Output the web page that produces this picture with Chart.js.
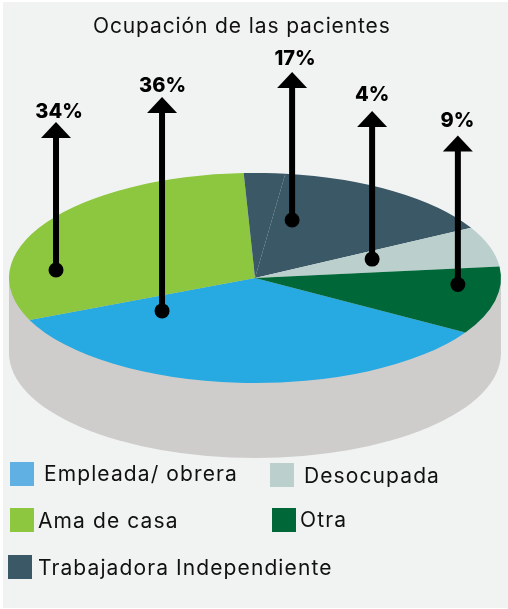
<!DOCTYPE html>
<html>
<head>
<meta charset="utf-8">
<script src="https://cdn.jsdelivr.net/npm/chart.js@4"></script>
<style>
    html, body { margin: 0; padding: 0; background: #fff; }
    #page { position: relative; width: 508px; height: 609px; overflow: hidden; }
    #panel { position: absolute; left: 3px; top: 2px; right: 0; bottom: 1px; background: #f1f3f3; }
    canvas { position: absolute; left: 0; top: 0; }
    .txt { position: absolute; font-family: Inter, sans-serif; font-size: 21px; line-height: 24px; color: #111; white-space: nowrap; }
    .swatch { position: absolute; width: 24px; height: 24px; }
</style>
</head>
<body>
<div id="page">
    <div id="panel"></div>
    <canvas id="chart" width="508" height="609"></canvas>
    <div id="title" class="txt" style="left:93px; top:14px; letter-spacing:0.88px;">Ocupación de las pacientes</div>
    <div id="legend"></div>
</div>
<script>
// slice shares as drawn in the picture (they differ a little from the printed percentages)
const sliceLabels = ['Empleada/ obrera', 'Ama de casa', 'Trabajadora Independiente', 'Trabajadora Independiente', 'Desocupada', 'Otra'];
const sliceValues = [34.8, 30.8, 2.7, 15.1, 6.2, 10.4];
const sliceColors = ['#27a9e1', '#8dc63f', '#3a5866', '#3a5866', '#bbcfcd', '#006838'];

// callouts: printed label, slice index, where the dot sits inside the slice, arrow length
const calloutLabels = ['34%', '36%', '17%', '4%', '9%'];
const calloutSlices = [1, 0, 3, 4, 5];
const calloutAngleFrac = [0.261, 0.871, 0.151, 0.351, 0.281];
const calloutRadiusFrac = [0.8125, 0.491, 0.572, 0.509, 0.827];
const calloutLengths = [148, 214, 148, 148, 149];
const calloutLabelOffsets = [3, 0.5, 3, 0, -0.5];
const calloutLabelGaps = [4, 5, 7, 10, 8];

const legendLabels = ['Empleada/ obrera', 'Desocupada', 'Ama de casa', 'Otra', 'Trabajadora Independiente'];
const legendColors = ['#60b0e3', '#bbcfcd', '#8dc63f', '#006838', '#3a5866'];
const legendSwatchX = [10, 270, 10, 272, 8];
const legendSwatchY = [462, 463, 508, 508, 555];
const legendTextX = [44, 304, 38, 300, 38];
const legendTextY = [462, 464, 509, 508, 556];

const squash = 105 / 246;
const wallDepth = 75;
const wallColor = '#cecdcb';

const legendEl = document.getElementById('legend');
legendLabels.forEach((label, i) => {
    const swatch = document.createElement('div');
    swatch.className = 'swatch';
    swatch.style.cssText = `left:${legendSwatchX[i]}px; top:${legendSwatchY[i]}px; background:${legendColors[i]};`;
    legendEl.appendChild(swatch);
    const text = document.createElement('div');
    text.className = 'txt';
    text.style.cssText = `left:${legendTextX[i]}px; top:${legendTextY[i]}px; letter-spacing:1.1px;`;
    text.textContent = label;
    legendEl.appendChild(text);
});

const tiltedPie = {
    id: 'tiltedPie',
    beforeDatasetsDraw(chart) {
        const { ctx } = chart;
        const arc = chart.getDatasetMeta(0).data[0];
        const rx = arc.outerRadius;
        const ry = rx * squash;

        // side wall below the disc
        ctx.save();
        ctx.fillStyle = wallColor;
        ctx.beginPath();
        ctx.moveTo(arc.x - rx, arc.y);
        ctx.lineTo(arc.x - rx, arc.y + wallDepth);
        ctx.ellipse(arc.x, arc.y + wallDepth, rx, ry, 0, Math.PI, 0, true);
        ctx.lineTo(arc.x + rx, arc.y);
        ctx.closePath();
        ctx.fill();
        ctx.restore();

        // flatten the disc, restored again in afterDatasetsDraw
        ctx.save();
        ctx.translate(arc.x, arc.y);
        ctx.scale(1, squash);
        ctx.translate(-arc.x, -arc.y);
    },
    afterDatasetsDraw(chart) {
        const { ctx } = chart;
        ctx.restore();

        const arcs = chart.getDatasetMeta(0).data;
        calloutLabels.forEach((label, i) => {
            const arc = arcs[calloutSlices[i]];
            const angle = arc.startAngle + (arc.endAngle - arc.startAngle) * calloutAngleFrac[i];
            const r = arc.outerRadius * calloutRadiusFrac[i];
            const x = arc.x + Math.cos(angle) * r;
            const y = arc.y + Math.sin(angle) * r * squash;
            const tip = y - calloutLengths[i];

            ctx.save();
            ctx.fillStyle = '#000';
            ctx.strokeStyle = '#000';
            ctx.lineWidth = 6;
            ctx.beginPath();
            ctx.moveTo(x, y);
            ctx.lineTo(x, tip + 14);
            ctx.stroke();
            ctx.beginPath();
            ctx.arc(x, y, 7.5, 0, Math.PI * 2);
            ctx.fill();
            ctx.beginPath();
            ctx.moveTo(x, tip);
            ctx.lineTo(x - 15, tip + 16);
            ctx.lineTo(x + 15, tip + 16);
            ctx.closePath();
            ctx.fill();
            ctx.font = '800 20px Inter, sans-serif';
            ctx.textAlign = 'center';
            ctx.textBaseline = 'alphabetic';
            ctx.fillText(label, x + calloutLabelOffsets[i], tip - calloutLabelGaps[i]);
            ctx.restore();
        });
    }
};

new Chart(document.getElementById('chart'), {
    type: 'pie',
    data: {
        labels: sliceLabels,
        datasets: [{ data: sliceValues, backgroundColor: sliceColors, borderWidth: 0, clip: false }]
    },
    options: {
        responsive: false,
        animation: false,
        rotation: 121.2,
        layout: { padding: { left: 9, right: 7, top: 32, bottom: 85 } },
        plugins: { legend: { display: false }, tooltip: { enabled: false } }
    },
    plugins: [tiltedPie]
});
</script>
</body>
</html>
